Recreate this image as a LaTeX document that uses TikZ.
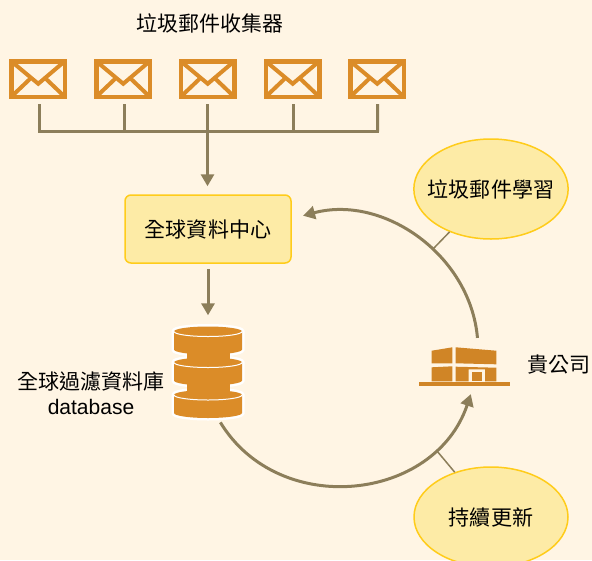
\documentclass[tikz,border=0pt]{standalone}
\usepackage{fontspec}
\setmainfont{Noto Sans CJK TC}
\newfontfamily\latinfont{Liberation Sans}
\usetikzlibrary{arrows.meta,shapes.geometric}
\definecolor{paper}{HTML}{FFF5E4}
\definecolor{mailorange}{HTML}{DB8C28}
\definecolor{flowbrown}{HTML}{8C7E5A}
\definecolor{softyellow}{HTML}{FDEBA6}
\definecolor{edgeyellow}{HTML}{FFCC1A}
\tikzset{
  label text/.style={inner sep=0pt,font=\fontsize{5.98}{7.2}\selectfont},
  mailbox/.style={draw=mailorange,line width=0.045cm,minimum width=0.535cm,minimum height=0.355cm,inner sep=0pt,
    path picture={
      \draw[mailorange,line width=0.04cm]
        (path picture bounding box.north west) -- ++(0.27,-0.225) -- (path picture bounding box.north east)
        (path picture bounding box.south west) -- ++(0.205,0.195)
        (path picture bounding box.south east) -- ++(-0.205,0.195);
    }},
  busline/.style={flowbrown,line width=0.03cm},
  flowline/.style={flowbrown,line width=0.03cm,-{Triangle[width=0.13cm,length=0.12cm]}},
  tieline/.style={flowbrown,line width=0.015cm},
  softoval/.style={ellipse,draw=edgeyellow,fill=softyellow,line width=0.015cm,minimum width=1.54cm,minimum height=1cm,inner sep=0pt,font=\fontsize{5.98}{7.2}\selectfont},
  hubbox/.style={draw=edgeyellow,fill=softyellow,line width=0.015cm,rounded corners=0.06cm,minimum width=1.66cm,minimum height=0.68cm,inner sep=0pt,font=\fontsize{5.98}{7.2}\selectfont},
  bldg/.style={fill=mailorange!95!black},
  dbhalo/.pic={
    \draw[white,fill=white,line width=0.05cm] (-0.34,0) arc[start angle=180,end angle=0,x radius=0.34,y radius=0.05]
      -- (0.34,-0.18) arc[start angle=0,end angle=-180,x radius=0.34,y radius=0.05] -- cycle;
  },
  dbdisk/.pic={
    \fill[mailorange] (-0.34,0) arc[start angle=180,end angle=0,x radius=0.34,y radius=0.05]
      -- (0.34,-0.18) arc[start angle=0,end angle=-180,x radius=0.34,y radius=0.05] -- cycle;
    \draw[white,line width=0.01cm] (-0.34,0) arc[start angle=180,end angle=360,x radius=0.34,y radius=0.05];
  }
}
\begin{document}
\begin{tikzpicture}
  \useasboundingbox (0,0) rectangle (5.92,-5.6);
  \fill[paper] (0,0) rectangle (5.92,-5.6);

  % collectors
  \node[label text] (collector) at (2.1,-0.23) {垃圾郵件收集器};
  \node[mailbox] (mail1) at (0.38,-0.79) {};
  \node[mailbox] (mail2) at (1.23,-0.79) {};
  \node[mailbox] (mail3) at (2.075,-0.79) {};
  \node[mailbox] (mail4) at (2.925,-0.79) {};
  \node[mailbox] (mail5) at (3.77,-0.79) {};

  \coordinate (busleft) at (0.395,-1.315);
  \coordinate (busright) at (3.775,-1.315);
  \coordinate (busmid) at (mail3.south |- busleft);
  \draw[busline,line cap=rect] (busleft) -- (busright);
  \draw[busline,shorten <=0.05cm] ([xshift=0.015cm]mail1.south) -- (busleft);
  \draw[busline,shorten <=0.05cm] ([xshift=0.01cm]mail2.south) -- ([xshift=0.01cm]mail2.south |- busleft);
  \draw[busline,shorten <=0.05cm] ([xshift=0.005cm]mail4.south) -- ([xshift=0.005cm]mail4.south |- busleft);
  \draw[busline,shorten <=0.05cm] ([xshift=0.005cm]mail5.south) -- (busright);

  % center and database
  \node[hubbox] (hub) at (2.08,-2.29) {全球資料中心};
  \draw[flowline,shorten <=0.05cm] (mail3.south) -- ([yshift=0.08cm]busmid |- hub.north);

  \node[minimum width=0.7cm,minimum height=0.94cm,inner sep=0pt] (db) at (2.08,-3.73) {};
  \pic at (2.08,-3.95) {dbhalo};
  \pic at (2.08,-3.625) {dbhalo};
  \pic at (2.08,-3.315) {dbhalo};
  \fill[mailorange] (1.87,-3.50) rectangle (2.30,-3.63);
  \fill[mailorange] (1.87,-3.82) rectangle (2.30,-3.95);
  \pic at (2.08,-3.95) {dbdisk};
  \pic at (2.08,-3.625) {dbdisk};
  \pic at (2.08,-3.315) {dbdisk};
  \draw[flowline,shorten <=0.05cm,shorten >=0.1cm] (hub.south) -- (db.north);
  \node[label text,align=center] (dblabel) at (0.91,-3.93) {全球過濾資料庫\\[-0.1pt]{\latinfont database}};

  % company
  \fill[bldg] (4.317,-3.507) -- (4.523,-3.473) -- (4.523,-3.633) -- (4.317,-3.633) -- cycle;
  \fill[bldg] (4.557,-3.473) -- (4.963,-3.507) -- (4.963,-3.643) -- (4.557,-3.633) -- cycle;
  \fill[bldg] (4.317,-3.673) -- (4.523,-3.663) -- (4.523,-3.813) -- (4.317,-3.813) -- cycle;
  \fill[bldg] (4.557,-3.667) -- (4.963,-3.677) -- (4.963,-3.813) -- (4.85,-3.813) -- (4.85,-3.693) -- (4.687,-3.693) -- (4.687,-3.813) -- (4.557,-3.813) -- cycle;
  \fill[bldg] (4.717,-3.72) rectangle (4.823,-3.813);
  \fill[bldg] (4.19,-3.823) rectangle (5.10,-3.857);
  \node[label text] (company) at (5.59,-3.65) {貴公司};

  % ring of arrows
  \coordinate (ringc) at (3.39,-3.5);
  \coordinate (topstart) at ([shift={(5:1.39)}]ringc);
  \coordinate (topend) at ([shift={(105:1.39)}]ringc);
  \coordinate (lowstart) at ([shift={(211.4:1.39)}]ringc);
  \coordinate (lowend) at ([shift={(341.5:1.39)}]ringc);
  \draw[flowline] (topstart) to[out=95,in=15] (topend);
  \draw[flowline] (lowstart) to[out=301.4,in=251.5,looseness=1.15] (lowend);

  \node[softoval,inner xsep=-0.085cm] (learn) at (4.91,-1.89) {垃圾郵件學習};
  \node[softoval] (update) at (4.91,-5.17) {持續更新};
  \coordinate (learntie) at (4.33,-2.49);
  \coordinate (updatetie) at (4.37,-4.51);
  \draw[tieline] (learn.226) -- (learntie);
  \draw[tieline] (update.129) -- (updatetie);
\end{tikzpicture}
\end{document}
